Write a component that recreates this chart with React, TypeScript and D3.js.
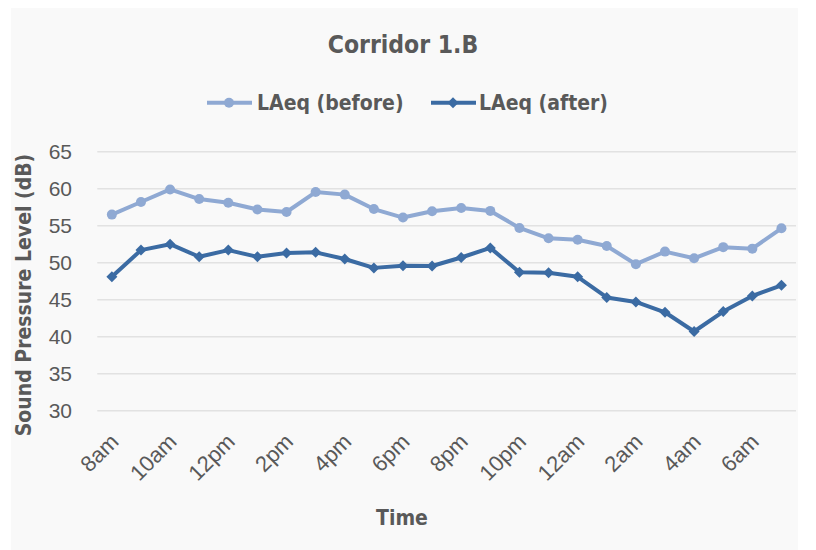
import React from "react";
import * as d3 from "d3";

const categories = [
  "8am","9am","10am","11am","12pm","1pm","2pm","3pm","4pm","5pm","6pm","7pm",
  "8pm","9pm","10pm","11pm","12am","1am","2am","3am","4am","5am","6am","7am",
];
const tickLabels = ["8am","10am","12pm","2pm","4pm","6pm","8pm","10pm","12am","2am","4am","6am"];
const before = [56.5,58.2,59.9,58.6,58.1,57.2,56.85,59.55,59.2,57.25,56.1,56.95,
  57.4,57.0,54.7,53.3,53.1,52.25,49.8,51.5,50.6,52.1,51.9,54.65];
const after = [48.1,51.7,52.5,50.8,51.7,50.8,51.3,51.4,50.5,49.3,49.6,49.55,
  50.7,52.0,48.7,48.65,48.1,45.3,44.7,43.3,40.7,43.4,45.5,46.95];
const yTicks = [30,35,40,45,50,55,60,65];

const W = 816, H = 550;
const plotLeft = 97.3, plotRight = 796, plotTop = 151.7, plotBottom = 410.7;
const colBefore = "#8FA9D3";
const colAfter = "#3B6BA3";
const textCol = "#595959";
const boldFont = "'DejaVu Sans Condensed', 'DejaVu Sans', sans-serif";
const tickFont = "'Liberation Sans', Arial, sans-serif";

export default function App() {
  const x = d3.scaleBand<string>().domain(categories).range([plotLeft, plotRight]);
  const cx = (c: string) => (x(c) as number) + x.bandwidth() / 2;
  const y = d3.scaleLinear().domain([30, 65]).range([plotBottom, plotTop]);
  const line = d3.line<number>().x((_, i) => cx(categories[i])).y((d) => y(d));
  const diamond = (s: number) => `M0,${-s}L${s},0L0,${s}L${-s},0Z`;

  return (
    <svg width={W} height={H} style={{ position: "absolute", left: 0, top: 0 }}>
      <rect x={0} y={0} width={W} height={H} fill="#ffffff" />
      <rect x={11} y={8} width={787} height={542} fill="#f9f9f9" />
      <text x={403} y={53} textAnchor="middle" fontFamily={boldFont} fontWeight="bold" fontSize={24.5} fill={textCol}>
        Corridor 1.B
      </text>
      {/* legend */}
      <g>
        <line x1={207} x2={252} y1={102.7} y2={102.7} stroke={colBefore} strokeWidth={4} />
        <circle cx={229} cy={102.7} r={5} fill={colBefore} />
        <text x={257} y={110} fontFamily={boldFont} fontWeight="bold" fontSize={21} fill={textCol}>LAeq (before)</text>
        <line x1={431} x2={476} y1={102.7} y2={102.7} stroke={colAfter} strokeWidth={4} />
        <path d={diamond(5.5)} transform={`translate(453,102.7)`} fill={colAfter} />
        <text x={479} y={110} fontFamily={boldFont} fontWeight="bold" fontSize={21} fill={textCol}>LAeq (after)</text>
      </g>
      {/* grid */}
      {yTicks.map((t) => (
        <g key={t}>
          <line x1={plotLeft} x2={plotRight} y1={y(t)} y2={y(t)} stroke="#e2e2e2" strokeWidth={1.5} />
          <text x={72} y={y(t)} dy="0.36em" textAnchor="end" fontFamily={tickFont} fontSize={21} fill={textCol}>{t}</text>
        </g>
      ))}
      {/* x tick labels */}
      {tickLabels.map((t) => (
        <text key={t} transform={`translate(${cx(t) + 8},${443}) rotate(-45)`} textAnchor="end"
          fontFamily={tickFont} fontSize={22} fill={textCol}>{t}</text>
      ))}
      {/* series */}
      <path d={line(before) || ""} fill="none" stroke={colBefore} strokeWidth={4} strokeLinejoin="round" />
      {before.map((v, i) => (
        <circle key={i} cx={cx(categories[i])} cy={y(v)} r={5} fill={colBefore} />
      ))}
      <path d={line(after) || ""} fill="none" stroke={colAfter} strokeWidth={4} strokeLinejoin="round" />
      {after.map((v, i) => (
        <path key={i} d={diamond(5.5)} transform={`translate(${cx(categories[i])},${y(v)})`} fill={colAfter} />
      ))}
      {/* axis titles */}
      <text x={402} y={525} textAnchor="middle" fontFamily={boldFont} fontWeight="bold" fontSize={21} fill={textCol}>Time</text>
      <text transform={`translate(31,295) rotate(-90)`} textAnchor="middle" fontFamily={boldFont} fontWeight="bold" fontSize={21} fill={textCol}>
        Sound Pressure Level (dB)
      </text>
    </svg>
  );
}
